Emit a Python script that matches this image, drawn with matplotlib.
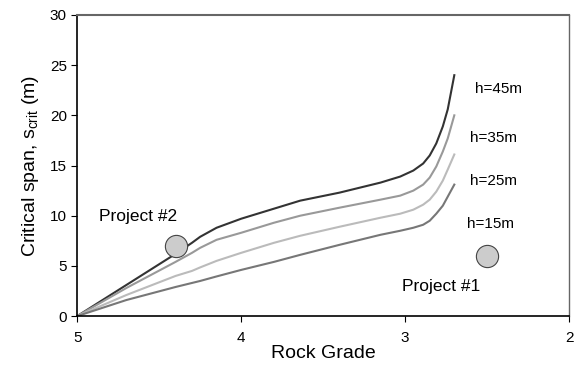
import matplotlib.pyplot as plt

plt.rcParams['font.family'] = ['Liberation Sans', 'DejaVu Sans']

# Rock grade (x) and critical span values for each depth h
grade = [5.0, 4.7, 4.4, 4.3, 4.25, 4.15, 4.0, 3.8, 3.64, 3.4, 3.15, 3.03,
         2.95, 2.89, 2.85, 2.81, 2.77, 2.74, 2.7]
span_45 = [0, 3.1, 6.2, 7.3, 7.9, 8.8, 9.7, 10.7, 11.5, 12.3, 13.3, 13.9,
           14.5, 15.2, 16.0, 17.2, 18.9, 20.6, 24.0]
span_35 = [0, 2.8, 5.4, 6.3, 6.8, 7.6, 8.3, 9.3, 10.0, 10.8, 11.6, 12.0,
           12.5, 13.1, 13.8, 14.9, 16.4, 17.7, 20.0]
span_25 = [0, 2.1, 4.0, 4.5, 4.85, 5.5, 6.3, 7.3, 8.0, 8.9, 9.8, 10.2,
           10.6, 11.1, 11.6, 12.4, 13.5, 14.6, 16.1]
span_15 = [0, 1.6, 2.9, 3.3, 3.5, 3.95, 4.6, 5.4, 6.1, 7.1, 8.1, 8.5,
           8.8, 9.1, 9.5, 10.2, 11.0, 11.9, 13.1]

curve_labels = ['h=45m', 'h=35m', 'h=25m', 'h=15m']
curve_colors = ['#333333', '#999999', '#bbbbbb', '#777777']
label_pos = [(2.43, 22.6), (2.46, 17.7), (2.46, 13.5), (2.48, 9.2)]

projects = ['Project #2', 'Project #1']
project_grade = [4.4, 2.5]
project_span = [7.0, 6.0]
project_text_pos = [(4.63, 9.9), (2.78, 2.9)]

fig = plt.figure(figsize=(5.76, 3.65), dpi=100)
ax = fig.add_axes([0.134, 0.134, 0.854, 0.825])

for ys, c in zip([span_45, span_35, span_25, span_15], curve_colors):
    ax.plot(grade, ys, color=c, lw=1.5, solid_joinstyle='round')

for lab, (tx, ty) in zip(curve_labels, label_pos):
    ax.text(tx, ty, lab, fontsize=11, ha='center', va='center')

ax.plot(project_grade, project_span, 'o', ms=16, mfc='#cccccc', mec='#444444', mew=0.8)
for lab, (tx, ty) in zip(projects, project_text_pos):
    ax.text(tx, ty, lab, fontsize=12.5, ha='center', va='center')

ax.set_xlim(5, 2)
ax.set_ylim(0, 30)
ax.set_xticks([5, 4, 3, 2])
ax.set_yticks([0, 5, 10, 15, 20, 25, 30])
ax.tick_params(labelsize=11, direction='out', length=4)
ax.tick_params(axis='x', pad=7)

ax.spines['top'].set_color('#666666')
ax.spines['right'].set_color('#666666')
ax.spines['top'].set_linewidth(1.5)
ax.spines['right'].set_linewidth(1.0)
ax.spines['left'].set_linewidth(1.2)
ax.spines['bottom'].set_linewidth(1.2)

ax.set_xlabel('Rock Grade', fontsize=14, labelpad=0)
ax.set_ylabel('Critical span, s$_{\\mathregular{crit}}$ (m)', fontsize=14, labelpad=6)

plt.savefig('out.png', dpi=100)
